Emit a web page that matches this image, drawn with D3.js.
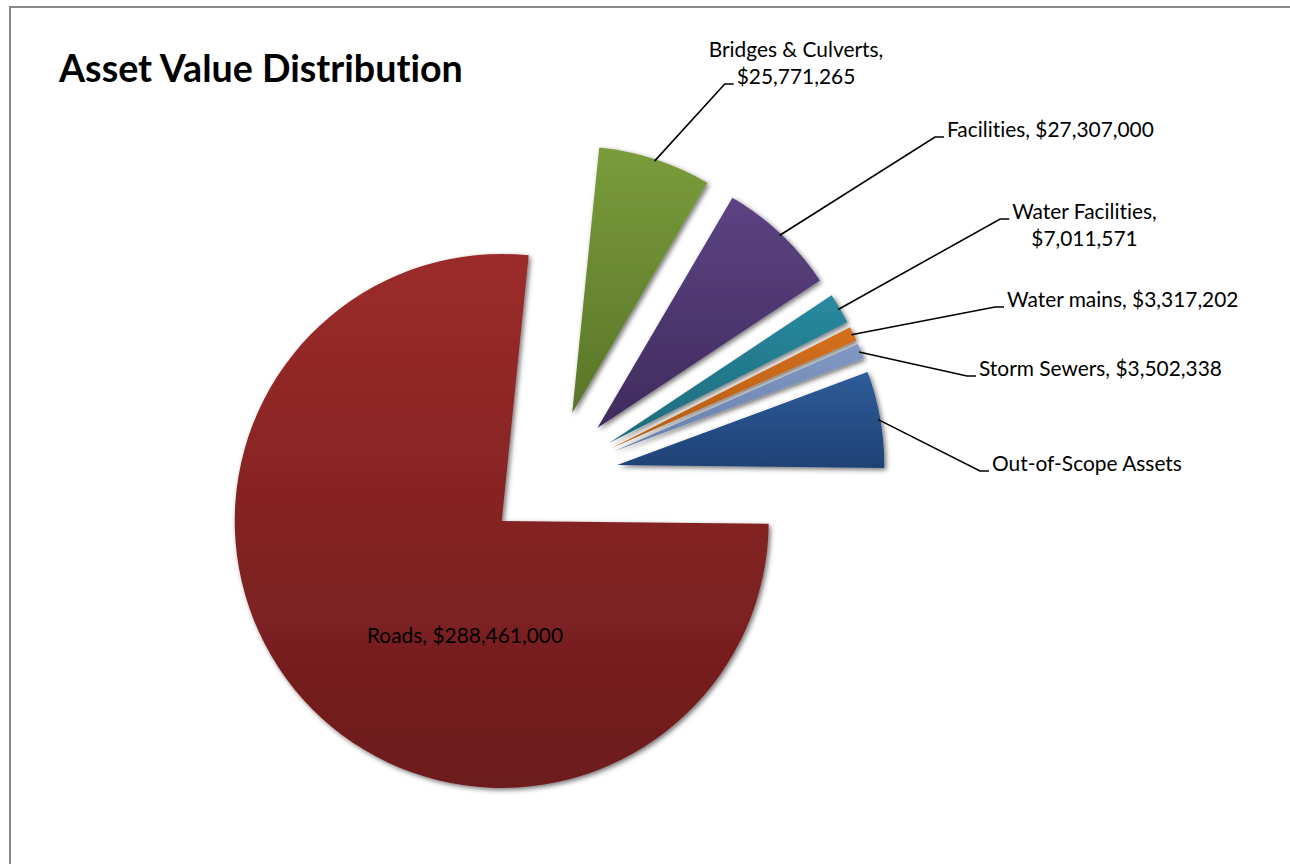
<!DOCTYPE html>
<html>
<head>
<meta charset="utf-8">
<script src="https://cdnjs.cloudflare.com/ajax/libs/d3/7.8.5/d3.min.js"></script>
<style>
  body { margin: 0; background: #fff; }
  svg { display: block; }
  text { font-variant-ligatures: none; font-feature-settings: "liga" 0, "clig" 0; }
</style>
</head>
<body>
<svg width="1290" height="864"></svg>
<script>
// --- Dados ---
const categorias = ['Bridges & Culverts', 'Facilities', 'Water Facilities', 'Water mains', 'Storm Sewers', 'Out-of-Scope Assets', 'Roads'];
const valores = [25771265, 27307000, 7011571, 3317202, 3502338, 22000000, 288461000];
const rotulos = [
    ['Bridges & Culverts,', '$25,771,265'],
    ['Facilities, $27,307,000'],
    ['Water Facilities,', '$7,011,571'],
    ['Water mains, $3,317,202'],
    ['Storm Sewers, $3,502,338'],
    ['Out-of-Scope Assets'],
    ['Roads, $288,461,000']
];
const coresTopo = ['#7a9c3b', '#5d4384', '#2a8aa0', '#d4701e', '#8199c4', '#2e5c98', '#9c2b2a'];
const coresBase = ['#5a7529', '#3f2b5c', '#1d6a7c', '#b65c14', '#6780ac', '#1f4276', '#6c1b1c'];

// --- Layout dos rótulos (posição do texto, alinhamento, linha ligada ao conector) ---
const layoutRotulos = [
    { x: 796, y: 57, anchor: 'middle', linha: 1 },
    { x: 947, y: 137, anchor: 'start', linha: 0 },
    { x: 1084.5, y: 219, anchor: 'middle', linha: 0 },
    { x: 1007, y: 307, anchor: 'start', linha: 0 },
    { x: 979, y: 376, anchor: 'start', linha: 0 },
    { x: 992, y: 471, anchor: 'start', linha: 0 },
    { x: 465, y: 643, anchor: 'middle', linha: null }
];

const svg = d3.select('svg');
const fonte = 'Lato, "Open Sans", sans-serif';

// moldura do gráfico
svg.append('rect')
    .attr('x', 10).attr('y', 7)
    .attr('width', 1300).attr('height', 900)
    .attr('fill', '#fff')
    .attr('stroke', '#898989')
    .attr('stroke-width', 2);

// ajustar tamanho da fonte à largura medida no original
function ajustarFonte(texto, peso, larguraAlvo, base) {
    const t = svg.append('text')
        .style('font-family', fonte).style('font-weight', peso)
        .style('font-size', base + 'px').text(texto);
    const w = t.node().getComputedTextLength();
    t.remove();
    return base * larguraAlvo / w;
}
const tamTitulo = ajustarFonte('Asset Value Distribution', 700, 404, 40);
const tamRotulo = ajustarFonte('Storm Sewers, $3,502,338', 400, 243, 22);

// Título
svg.append('text')
    .attr('x', 59).attr('y', 82)
    .style('font-family', fonte).style('font-weight', 700)
    .style('font-size', tamTitulo + 'px')
    .attr('fill', '#000')
    .text('Asset Value Distribution');

// --- Defs: gradientes e sombra ---
const defs = svg.append('defs');
categorias.forEach((c, i) => {
    const grad = defs.append('linearGradient')
        .attr('id', 'grad' + i)
        .attr('x1', 0).attr('y1', 0).attr('x2', 0).attr('y2', 1);
    grad.append('stop').attr('offset', '0%').attr('stop-color', coresTopo[i]);
    grad.append('stop').attr('offset', '100%').attr('stop-color', coresBase[i]);
});
const filtro = defs.append('filter').attr('id', 'sombra')
    .attr('x', '-20%').attr('y', '-20%').attr('width', '140%').attr('height', '140%');
filtro.append('feDropShadow')
    .attr('dx', 2).attr('dy', 2).attr('stdDeviation', 2.4)
    .attr('flood-color', '#000').attr('flood-opacity', 0.55);

// --- Pizza ---
const cx = 551.5, cy = 476.5;
const raio = 267;
const explosao = raio * 0.25;
const anguloInicial = 5.8 * Math.PI / 180;

const pie = d3.pie()
    .sort(null)
    .startAngle(anguloInicial)
    .endAngle(anguloInicial + 2 * Math.PI);
const arcos = pie(valores);
const arc = d3.arc().innerRadius(0).outerRadius(raio);

const gPie = svg.append('g').attr('transform', `translate(${cx},${cy})`);

const fatias = gPie.selectAll('g.fatia')
    .data(arcos)
    .join('g')
    .attr('class', 'fatia')
    .attr('transform', d => {
        const m = (d.startAngle + d.endAngle) / 2;
        return `translate(${explosao * Math.sin(m)},${-explosao * Math.cos(m)})`;
    });

fatias.append('path')
    .attr('d', arc)
    .attr('fill', (d, i) => `url(#grad${i})`)
    .attr('filter', 'url(#sombra)');

// --- Rótulos e conectores ---
const gRot = svg.append('g')
    .style('font-family', fonte)
    .style('font-size', tamRotulo + 'px')
    .attr('fill', '#000');

const alturaLinha = 27;

arcos.forEach((d, i) => {
    const lay = layoutRotulos[i];
    const linhas = rotulos[i];
    const nos = linhas.map((txt, k) => gRot.append('text')
        .attr('x', lay.x)
        .attr('y', lay.y + k * alturaLinha)
        .attr('text-anchor', lay.anchor)
        .text(txt));

    if (lay.linha === null) return;

    // ponto de partida: arco externo no ângulo médio da fatia explodida
    const m = (d.startAngle + d.endAngle) / 2;
    const px = cx + (explosao + raio - 2) * Math.sin(m);
    const py = cy - (explosao + raio - 2) * Math.cos(m);

    const alvo = nos[lay.linha];
    const w = alvo.node().getComputedTextLength();
    const esquerda = lay.anchor === 'middle' ? lay.x - w / 2 : lay.x;
    const yl = lay.y + lay.linha * alturaLinha;
    const fim = esquerda - 3;

    svg.append('polyline')
        .attr('points', `${px},${py} ${fim - 9},${yl} ${fim},${yl}`)
        .attr('fill', 'none')
        .attr('stroke', '#000')
        .attr('stroke-width', 1.6);
});
</script>
</body>
</html>
